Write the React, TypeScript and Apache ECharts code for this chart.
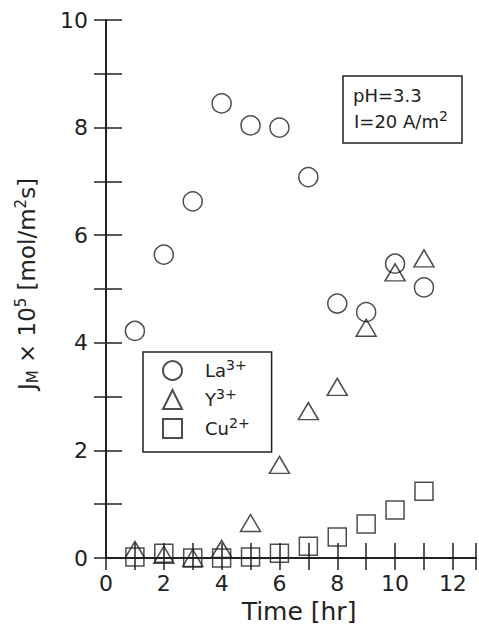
import React, { useEffect, useRef } from 'react';
import * as echarts from 'echarts';

const timeHr = [1, 2, 3, 4, 5, 6, 7, 8, 9, 10, 11];
const laFlux = [4.22, 5.64, 6.63, 8.45, 8.04, 8.0, 7.08, 4.73, 4.57, 5.47, 5.03];
const yFlux = [0.15, 0.06, 0.0, 0.17, 0.65, 1.73, 2.73, 3.18, 4.28, 5.31, 5.57];
const cuFlux = [0.02, 0.09, 0.0, 0.0, 0.02, 0.09, 0.22, 0.39, 0.63, 0.89, 1.24];
const xTickLabels = [0, 2, 4, 6, 8, 10, 12];
const yTickLabels = [0, 2, 4, 6, 8, 10];
const seriesNames = ['La', 'Y', 'Cu'];
const seriesCharges = ['3+', '3+', '2+'];

const INK = '#222';
const FONT = '"DejaVu Sans", "Liberation Sans", Arial, sans-serif';

export default function App() {
  const ref = useRef<HTMLDivElement>(null);
  useEffect(() => {
    if (!ref.current) return;
    const chart = echarts.init(ref.current, undefined, { renderer: 'svg' });
    const mk = (vals: number[]) => timeHr.map((t, i) => [t, vals[i]]);
    const markerStyle = { color: 'rgba(0,0,0,0)', borderColor: INK, borderWidth: 1.5 };
    const chargeOf: Record<string, string> = {};
    seriesNames.forEach((n, i) => (chargeOf[n] = seriesCharges[i]));
    chart.setOption({
      animation: false,
      backgroundColor: '#fff',
      textStyle: { fontFamily: FONT, color: INK },
      grid: { left: 106, top: 20, width: 374, height: 538 },
      xAxis: [
        {
          type: 'value', position: 'bottom', min: 0, max: 12.8, interval: 1,
          axisLine: { show: true, lineStyle: { color: INK, width: 2 } },
          axisTick: { show: true, inside: true, length: 15, lineStyle: { color: INK, width: 1.5 } },
          splitLine: { show: false },
          axisLabel: {
            fontSize: 22, color: INK, fontFamily: FONT, margin: 14,
            formatter: (v: number) => (xTickLabels.includes(v) ? String(v) : ''),
          },
          name: 'Time [hr]', nameLocation: 'middle', nameGap: 37,
          nameTextStyle: { fontSize: 25, color: INK, fontFamily: FONT, padding: [0, 0, 0, 16] },
        },
        {
          type: 'value', position: 'top', min: 0, max: 12.8, interval: 1,
          axisLine: { show: true, lineStyle: { color: INK, width: 2 } },
          axisTick: { show: true, inside: true, length: 12, lineStyle: { color: INK, width: 1.5 } },
          axisLabel: { show: false }, splitLine: { show: false },
        },
      ],
      yAxis: [
        {
          type: 'value', position: 'left', min: 0, max: 10, interval: 1,
          axisLine: { show: true, lineStyle: { color: INK, width: 2 } },
          axisTick: { show: true, inside: true, length: 16, lineStyle: { color: INK, width: 1.5 } },
          splitLine: { show: false },
          axisLabel: {
            fontSize: 22, color: INK, fontFamily: FONT, margin: 18,
            formatter: (v: number) => (yTickLabels.includes(v) ? String(v) : ''),
          },
          name: '{b|J}{sub|M}{b| × 10}{sup|5}{b| [mol/m}{sup|2}{b|s]}',
          nameLocation: 'middle', nameGap: 66, nameRotate: 90,
          nameTextStyle: {
            color: INK, fontFamily: FONT, padding: [0, 0, 0, 10],
            rich: {
              b: { fontSize: 23, color: INK, fontFamily: FONT },
              sub: { fontSize: 15, color: INK, fontFamily: FONT, padding: [12, 0, 0, 0] },
              sup: { fontSize: 15, color: INK, fontFamily: FONT, padding: [0, 0, 12, 0] },
            },
          },
        },
        {
          type: 'value', position: 'right', min: 0, max: 10, interval: 1,
          axisLine: { show: false },
          axisTick: { show: true, inside: true, length: 12, lineStyle: { color: INK, width: 1.5 } },
          axisLabel: { show: false }, splitLine: { show: false },
        },
      ],
      legend: {
        orient: 'vertical', left: 143, top: 352, selectedMode: false,
        padding: [6, 22, 13, 19], itemGap: 6, itemWidth: 19, itemHeight: 19,
        borderColor: INK, borderWidth: 1.5, borderRadius: 0,
        data: seriesNames,
        formatter: (n: string) => `{b|${n}}{sup|${chargeOf[n]}}`,
        textStyle: {
          color: INK, fontFamily: FONT,
          rich: {
            b: { fontSize: 18, color: INK, fontFamily: FONT, padding: [0, 0, 0, 18] },
            sup: { fontSize: 14, color: INK, fontFamily: FONT, padding: [0, 0, 11, 0] },
          },
        },
      },
      graphic: [
        {
          type: 'rect', shape: { x: 343, y: 76, width: 119, height: 67 },
          style: { fill: 'rgba(0,0,0,0)', stroke: INK, lineWidth: 1.5 }, z: 10,
        },
        {
          type: 'text', x: 353, y: 86, z: 10,
          style: { text: 'pH=3.3', fontSize: 18, fontFamily: FONT, fill: INK },
        },
        {
          type: 'text', x: 354, y: 109, z: 10,
          style: {
            text: '{b|I=20 A/m}{s|2}', fill: INK,
            rich: {
              b: { fontSize: 18, fontFamily: FONT, fill: INK },
              s: { fontSize: 14, fontFamily: FONT, fill: INK, padding: [0, 0, 11, 0] },
            },
          },
        },
      ],
      series: [
        { name: 'La', type: 'scatter', symbol: 'circle', symbolSize: 19, data: mk(laFlux), itemStyle: markerStyle },
        { name: 'Y', type: 'scatter', symbol: 'triangle', symbolSize: [20, 17], data: mk(yFlux), itemStyle: markerStyle },
        { name: 'Cu', type: 'scatter', symbol: 'rect', symbolSize: 18, data: mk(cuFlux), itemStyle: markerStyle },
      ],
    });
    return () => chart.dispose();
  }, []);
  return <div ref={ref} style={{ position: 'fixed', left: 0, top: 0, width: 479, height: 633 }} />;
}
